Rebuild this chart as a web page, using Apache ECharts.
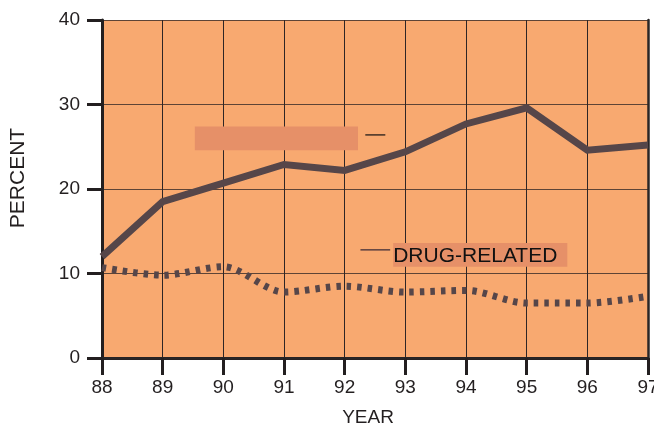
<!DOCTYPE html>
<html>
<head>
<meta charset="utf-8">
<script src="https://cdn.jsdelivr.net/npm/echarts@6/dist/echarts.min.js"></script>
<style>
html,body{margin:0;padding:0;background:#fff;}
#c{width:654px;height:426px;}
</style>
</head>
<body>
<div id="c"></div>
<script>
var years = [88, 89, 90, 91, 92, 93, 94, 95, 96, 97];
var totalSeries = [12.0, 18.5, 20.7, 22.9, 22.2, 24.4, 27.7, 29.6, 24.6, 25.2];
var drugSeries = [10.7, 9.8, 10.8, 7.8, 8.5, 7.8, 8.0, 6.5, 6.5, 7.3];
var yTicks = [0, 10, 20, 30, 40];
var drugLabel = 'DRUG-RELATED';

var FONT = '"Liberation Sans", Arial, sans-serif';
var ink = '#231f20';
var lineColor = '#564649';

function pairs(vals) { return years.map(function (y, i) { return [y, vals[i]]; }); }

var chart = echarts.init(document.getElementById('c'), null, {renderer: 'canvas'});
chart.setOption({
  animation: false,
  backgroundColor: '#ffffff',
  grid: {left: 102, right: 6, top: 20, bottom: 68, show: true, backgroundColor: '#F8A970', borderWidth: 0,
         containLabel: false, outerBoundsMode: 'none'},
  xAxis: [{
    type: 'value', min: years[0], max: years[years.length - 1], interval: 1,
    name: 'YEAR', nameLocation: 'middle', nameGap: 50,
    nameTextStyle: {fontFamily: FONT, fontSize: 19, color: ink, padding: [0, 14, 0, 0]},
    axisLine: {lineStyle: {color: ink, width: 3}},
    axisTick: {length: 17, lineStyle: {color: ink, width: 3}},
    axisLabel: {fontFamily: FONT, fontSize: 19, color: ink, margin: 20, showMinLabel: true, showMaxLabel: true},
    splitLine: {show: true, lineStyle: {color: '#2e2626', width: 1}}
  }, {
    type: 'value', min: years[0], max: years[years.length - 1], interval: 1, position: 'top',
    axisLine: {show: true, lineStyle: {color: '#2a2626', width: 2.5}},
    axisTick: {show: false}, axisLabel: {show: false}, splitLine: {show: false}
  }],
  yAxis: [{
    type: 'value', min: yTicks[0], max: yTicks[yTicks.length - 1], interval: 10,
    name: 'PERCENT', nameLocation: 'middle', nameGap: 73, nameRotate: 90,
    nameTextStyle: {fontFamily: FONT, fontSize: 21, color: ink, padding: [0, 0, 0, 22]},
    axisLine: {show: true, lineStyle: {color: ink, width: 3}},
    axisTick: {show: true, length: 15, lineStyle: {color: ink, width: 3}},
    axisLabel: {fontFamily: FONT, fontSize: 19, color: ink, margin: 22},
    splitLine: {show: true, lineStyle: {color: '#5e4436', width: 1}}
  }, {
    type: 'value', min: yTicks[0], max: yTicks[yTicks.length - 1], interval: 10, position: 'right',
    axisLine: {show: true, lineStyle: {color: '#2a2626', width: 2.5}},
    axisTick: {show: false}, axisLabel: {show: false}, splitLine: {show: false}
  }],
  series: [{
    type: 'line', data: pairs(totalSeries), symbol: 'none', z: 5,
    lineStyle: {color: lineColor, width: 7, join: 'miter'}
  }, {
    type: 'line', data: pairs(drugSeries), symbol: 'none', smooth: 0.3, z: 5,
    lineStyle: {color: lineColor, width: 7, type: [4.5, 6], cap: 'butt'}
  }]
});

function px(x, y) { return chart.convertToPixel({xAxisIndex: 0, yAxisIndex: 0}, [x, y]); }
// annotation anchors in data space (year, percent)
var a1 = px(89.53, 27.4), a2 = px(92.22, 24.6);
var l1a = px(92.34, 26.4), l1b = px(92.67, 26.4);
var b1 = px(92.8, 13.6), b2 = px(95.67, 10.8);
var l2a = px(92.26, 12.8), l2b = px(92.75, 12.8);
chart.setOption({
  graphic: [
    {type: 'rect', z: 10, shape: {x: a1[0], y: a1[1], width: a2[0] - a1[0], height: a2[1] - a1[1]}, style: {fill: '#E69068'}},
    {type: 'line', z: 10, shape: {x1: l1a[0], y1: l1a[1], x2: l1b[0], y2: l1b[1]}, style: {stroke: '#111', lineWidth: 1.2}},
    {type: 'rect', z: 10, shape: {x: b1[0], y: b1[1], width: b2[0] - b1[0], height: b2[1] - b1[1]}, style: {fill: '#E69068'}},
    {type: 'line', z: 10, shape: {x1: l2a[0], y1: l2a[1], x2: l2b[0], y2: l2b[1]}, style: {stroke: '#5a4040', lineWidth: 1.5}},
    {type: 'text', z: 11, x: b1[0], y: (b1[1] + b2[1]) / 2 + 1, style: {text: drugLabel, font: '21px ' + FONT, fill: '#111', verticalAlign: 'middle', align: 'left'}}
  ]
});
</script>
</body>
</html>
